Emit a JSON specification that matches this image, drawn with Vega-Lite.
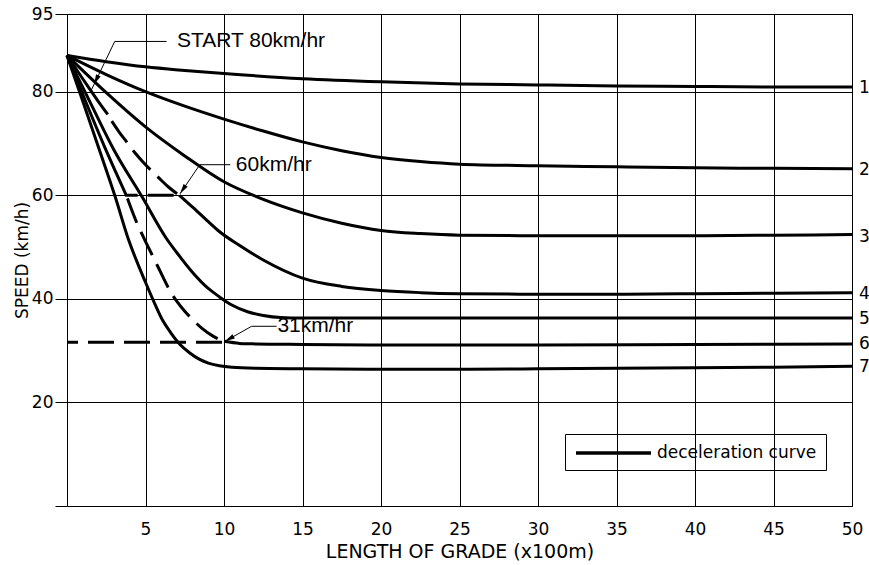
{
  "$schema": "https://vega.github.io/schema/vega-lite/v6.json",
  "width": 785,
  "height": 492,
  "autosize": {"type": "none"},
  "padding": {"left": 67, "top": 14, "right": 17, "bottom": 59},
  "background": "white",
  "config": {
    "view": {"stroke": "black", "strokeWidth": 1},
    "font": "DejaVu Sans",
    "axis": {
      "gridColor": "black", "gridOpacity": 1, "gridWidth": 1, "domain": false,
      "labelColor": "black", "titleColor": "black",
      "labelFont": "DejaVu Sans", "titleFont": "DejaVu Sans",
      "labelFontWeight": "normal", "titleFontWeight": "normal", "labelFlush": false
    }
  },
  "datasets": {
    "solid": [
      {"seg": "1", "x": 0, "y": 87}, {"seg": "1", "x": 2.5, "y": 85.8}, {"seg": "1", "x": 5, "y": 84.8}, {"seg": "1", "x": 7.5, "y": 84.1}, {"seg": "1", "x": 10, "y": 83.5}, {"seg": "1", "x": 15, "y": 82.5}, {"seg": "1", "x": 20, "y": 81.9}, {"seg": "1", "x": 25, "y": 81.5}, {"seg": "1", "x": 30, "y": 81.3}, {"seg": "1", "x": 35, "y": 81.1}, {"seg": "1", "x": 40, "y": 81.0}, {"seg": "1", "x": 45, "y": 80.9}, {"seg": "1", "x": 50, "y": 80.9},
      {"seg": "2", "x": 0, "y": 87}, {"seg": "2", "x": 2.5, "y": 83.3}, {"seg": "2", "x": 5, "y": 80}, {"seg": "2", "x": 7.5, "y": 77.2}, {"seg": "2", "x": 10, "y": 74.7}, {"seg": "2", "x": 12.5, "y": 72.4}, {"seg": "2", "x": 15, "y": 70.3}, {"seg": "2", "x": 17.5, "y": 68.6}, {"seg": "2", "x": 20, "y": 67.3}, {"seg": "2", "x": 22.5, "y": 66.5}, {"seg": "2", "x": 25, "y": 66.0}, {"seg": "2", "x": 30, "y": 65.7}, {"seg": "2", "x": 35, "y": 65.5}, {"seg": "2", "x": 40, "y": 65.3}, {"seg": "2", "x": 45, "y": 65.2}, {"seg": "2", "x": 50, "y": 65.1},
      {"seg": "3", "x": 0, "y": 87}, {"seg": "3", "x": 2.5, "y": 79.8}, {"seg": "3", "x": 5, "y": 73.2}, {"seg": "3", "x": 7.5, "y": 67.6}, {"seg": "3", "x": 10, "y": 62.6}, {"seg": "3", "x": 12.5, "y": 59.2}, {"seg": "3", "x": 15, "y": 56.6}, {"seg": "3", "x": 17.5, "y": 54.6}, {"seg": "3", "x": 20, "y": 53.2}, {"seg": "3", "x": 22.5, "y": 52.6}, {"seg": "3", "x": 25, "y": 52.3}, {"seg": "3", "x": 30, "y": 52.2}, {"seg": "3", "x": 35, "y": 52.2}, {"seg": "3", "x": 40, "y": 52.2}, {"seg": "3", "x": 45, "y": 52.3}, {"seg": "3", "x": 50, "y": 52.4},
      {"seg": "4s", "x": 0, "y": 87}, {"seg": "4s", "x": 1, "y": 82.5}, {"seg": "4s", "x": 2, "y": 78.1}, {"seg": "4s", "x": 2.6, "y": 75.6},
      {"seg": "4", "x": 7.15, "y": 60}, {"seg": "4", "x": 8, "y": 57.7}, {"seg": "4", "x": 9, "y": 54.9}, {"seg": "4", "x": 9.7, "y": 53}, {"seg": "4", "x": 11, "y": 50.3}, {"seg": "4", "x": 12.5, "y": 47.5}, {"seg": "4", "x": 15, "y": 44}, {"seg": "4", "x": 17.5, "y": 42.4}, {"seg": "4", "x": 20, "y": 41.6}, {"seg": "4", "x": 22.5, "y": 41.2}, {"seg": "4", "x": 25, "y": 41}, {"seg": "4", "x": 30, "y": 40.9}, {"seg": "4", "x": 35, "y": 40.9}, {"seg": "4", "x": 40, "y": 41}, {"seg": "4", "x": 45, "y": 41.1}, {"seg": "4", "x": 50, "y": 41.2},
      {"seg": "5", "x": 0, "y": 87}, {"seg": "5", "x": 1.5, "y": 77.8}, {"seg": "5", "x": 3, "y": 68.7}, {"seg": "5", "x": 4.8, "y": 59.6}, {"seg": "5", "x": 6.3, "y": 51.8}, {"seg": "5", "x": 7, "y": 48.9}, {"seg": "5", "x": 8, "y": 45.1}, {"seg": "5", "x": 9, "y": 42}, {"seg": "5", "x": 9.7, "y": 40.4}, {"seg": "5", "x": 10.5, "y": 38.8}, {"seg": "5", "x": 11.5, "y": 37.5}, {"seg": "5", "x": 12.5, "y": 36.8}, {"seg": "5", "x": 13.6, "y": 36.4}, {"seg": "5", "x": 15, "y": 36.3}, {"seg": "5", "x": 20, "y": 36.3}, {"seg": "5", "x": 30, "y": 36.3}, {"seg": "5", "x": 40, "y": 36.3}, {"seg": "5", "x": 50, "y": 36.3},
      {"seg": "6a", "x": 0, "y": 87}, {"seg": "6a", "x": 1.2, "y": 78}, {"seg": "6a", "x": 2.4, "y": 69.3}, {"seg": "6a", "x": 3.1, "y": 64.5}, {"seg": "6a", "x": 3.8, "y": 59.8},
      {"seg": "6c", "x": 10, "y": 31.8}, {"seg": "6c", "x": 11, "y": 31.4}, {"seg": "6c", "x": 12, "y": 31.3}, {"seg": "6c", "x": 15, "y": 31.2}, {"seg": "6c", "x": 20, "y": 31.1}, {"seg": "6c", "x": 30, "y": 31.1}, {"seg": "6c", "x": 40, "y": 31.2}, {"seg": "6c", "x": 50, "y": 31.3},
      {"seg": "7", "x": 0, "y": 87}, {"seg": "7", "x": 1, "y": 78.2}, {"seg": "7", "x": 2.07, "y": 68.7}, {"seg": "7", "x": 3.04, "y": 60}, {"seg": "7", "x": 3.9, "y": 51.6}, {"seg": "7", "x": 5, "y": 43.2}, {"seg": "7", "x": 5.6, "y": 39}, {"seg": "7", "x": 6.1, "y": 35.8}, {"seg": "7", "x": 6.6, "y": 33.5}, {"seg": "7", "x": 7.2, "y": 31.2}, {"seg": "7", "x": 7.8, "y": 29.6}, {"seg": "7", "x": 8.45, "y": 28.3}, {"seg": "7", "x": 9, "y": 27.6}, {"seg": "7", "x": 9.7, "y": 27.1}, {"seg": "7", "x": 10.5, "y": 26.8}, {"seg": "7", "x": 12, "y": 26.6}, {"seg": "7", "x": 15, "y": 26.5}, {"seg": "7", "x": 20, "y": 26.4}, {"seg": "7", "x": 25, "y": 26.4}, {"seg": "7", "x": 30, "y": 26.5}, {"seg": "7", "x": 35, "y": 26.6}, {"seg": "7", "x": 40, "y": 26.7}, {"seg": "7", "x": 45, "y": 26.8}, {"seg": "7", "x": 50, "y": 27}
    ],
    "dashed": [
      {"seg": "A", "x": 2.85, "y": 74.3}, {"seg": "A", "x": 3.3, "y": 72.3}, {"seg": "A", "x": 3.85, "y": 70.1}, {"seg": "A", "x": 4.3, "y": 68.3}, {"seg": "A", "x": 5, "y": 65.9}, {"seg": "A", "x": 5.5, "y": 64.4}, {"seg": "A", "x": 5.9, "y": 63.2}, {"seg": "A", "x": 6.5, "y": 61.5}, {"seg": "A", "x": 7.15, "y": 60},
      {"seg": "B", "x": 3.85, "y": 59.4}, {"seg": "B", "x": 4.5, "y": 54.3}, {"seg": "B", "x": 4.95, "y": 51.4}, {"seg": "B", "x": 5.6, "y": 47.4}, {"seg": "B", "x": 6.1, "y": 44.3}, {"seg": "B", "x": 6.55, "y": 41.6}, {"seg": "B", "x": 7, "y": 39.5}, {"seg": "B", "x": 7.5, "y": 37.6}, {"seg": "B", "x": 8, "y": 36}, {"seg": "B", "x": 8.6, "y": 34.3}, {"seg": "B", "x": 9.3, "y": 32.8}, {"seg": "B", "x": 10, "y": 31.8}
    ],
    "levels": [
      {"seg": "h60", "x": 3.8, "y": 60}, {"seg": "h60", "x": 7.15, "y": 60},
      {"seg": "h31", "x": 0, "y": 31.6}, {"seg": "h31", "x": 10, "y": 31.6}
    ],
    "leaders": [
      {"note": "start", "x": 6.34, "y": 89.7}, {"note": "start", "x": 3.04, "y": 89.7}, {"note": "start", "x": 1.5, "y": 80},
      {"note": "n60", "x": 10.4, "y": 65.9}, {"note": "n60", "x": 8.46, "y": 65.9}, {"note": "n60", "x": 7.2, "y": 60.3},
      {"note": "n31", "x": 13.35, "y": 34.7}, {"note": "n31", "x": 11.76, "y": 34.7}, {"note": "n31", "x": 10.06, "y": 31.8}
    ],
    "tips": [
      {"note": "start", "x": 1.72, "y": 81.4},
      {"note": "n60", "x": 7.2, "y": 60.3},
      {"note": "n31", "x": 10.06, "y": 31.8}
    ],
    "notes": [
      {"text": "START 80km/hr", "x": 7.0, "y": 89.8},
      {"text": "60km/hr", "x": 10.75, "y": 65.9},
      {"text": "31km/hr", "x": 13.4, "y": 34.7}
    ],
    "ends": [
      {"label": "1", "y": 80.8}, {"label": "2", "y": 64.8}, {"label": "3", "y": 51.9}, {"label": "4", "y": 41.0}, {"label": "5", "y": 36.2}, {"label": "6", "y": 31.3}, {"label": "7", "y": 26.9}
    ]
  },
  "layer": [
    {
      "data": {"name": "solid"},
      "mark": {"type": "line", "interpolate": "monotone", "strokeWidth": 3},
      "encoding": {
        "x": {
          "field": "x", "type": "quantitative",
          "scale": {"domain": [0, 50], "nice": false, "zero": false},
          "axis": {
            "values": [5, 10, 15, 20, 25, 30, 35, 40, 45, 50],
            "ticks": false, "tickSize": 0, "labelFontSize": 17, "labelPadding": 15,
            "title": "LENGTH OF GRADE (x100m)", "titleFontSize": 19, "titlePadding": 5, "grid": true
          }
        },
        "y": {
          "field": "y", "type": "quantitative",
          "scale": {"domain": [0, 95], "nice": false, "zero": false},
          "axis": {
            "values": [0, 20, 40, 60, 80, 95],
            "labelExpr": "datum.value == 0 ? '' : datum.label",
            "ticks": true, "tickSize": 12, "tickColor": "black", "tickWidth": 1,
            "labelPadding": 2, "labelFontSize": 17,
            "title": "SPEED (km/h)", "titleFontSize": 17, "titlePadding": 0, "grid": true
          }
        },
        "detail": {"field": "seg"},
        "color": {
          "datum": "deceleration curve", "type": "nominal",
          "scale": {"range": ["black"]},
          "legend": {
            "orient": "none", "legendX": 498, "legendY": 420, "title": null,
            "strokeColor": "black", "padding": 9, "cornerRadius": 0,
            "symbolType": "M-1,0L8.375,0", "symbolSize": 256, "symbolStrokeWidth": 3.5,
            "labelFontSize": 17, "labelOffset": 63, "labelFont": "DejaVu Sans",
            "labelFontWeight": "normal", "labelColor": "black"
          }
        }
      }
    },
    {
      "data": {"name": "dashed"},
      "mark": {"type": "line", "interpolate": "monotone", "strokeWidth": 3, "strokeDash": [26, 10], "color": "black"},
      "encoding": {
        "x": {"field": "x", "type": "quantitative"},
        "y": {"field": "y", "type": "quantitative"},
        "detail": {"field": "seg"}
      }
    },
    {
      "data": {"name": "levels"},
      "mark": {"type": "line", "strokeWidth": 3, "strokeDash": [26, 10], "strokeDashOffset": 15, "color": "black"},
      "encoding": {
        "x": {"field": "x", "type": "quantitative"},
        "y": {"field": "y", "type": "quantitative"},
        "detail": {"field": "seg"}
      }
    },
    {
      "data": {"name": "leaders"},
      "mark": {"type": "line", "strokeWidth": 1, "color": "black"},
      "encoding": {
        "x": {"field": "x", "type": "quantitative"},
        "y": {"field": "y", "type": "quantitative"},
        "detail": {"field": "note"}
      }
    },
    {
      "data": {"name": "tips"},
      "transform": [{"filter": "datum.note == 'start'"}],
      "mark": {"type": "point", "shape": "M0,0L-0.25,1L0.25,1Z", "filled": true, "color": "black", "opacity": 1, "size": 400, "angle": 205.8},
      "encoding": {
        "x": {"field": "x", "type": "quantitative"},
        "y": {"field": "y", "type": "quantitative"}
      }
    },
    {
      "data": {"name": "tips"},
      "transform": [{"filter": "datum.note == 'n60'"}],
      "mark": {"type": "point", "shape": "M0,0L-0.25,1L0.25,1Z", "filled": true, "color": "black", "opacity": 1, "size": 400, "angle": 214.1},
      "encoding": {
        "x": {"field": "x", "type": "quantitative"},
        "y": {"field": "y", "type": "quantitative"}
      }
    },
    {
      "data": {"name": "tips"},
      "transform": [{"filter": "datum.note == 'n31'"}],
      "mark": {"type": "point", "shape": "M0,0L-0.25,1L0.25,1Z", "filled": true, "color": "black", "opacity": 1, "size": 400, "angle": 240.7},
      "encoding": {
        "x": {"field": "x", "type": "quantitative"},
        "y": {"field": "y", "type": "quantitative"}
      }
    },
    {
      "data": {"name": "notes"},
      "mark": {"type": "text", "align": "left", "baseline": "middle", "font": "Liberation Sans", "fontSize": 21, "color": "black"},
      "encoding": {
        "x": {"field": "x", "type": "quantitative"},
        "y": {"field": "y", "type": "quantitative"},
        "text": {"field": "text"}
      }
    },
    {
      "data": {"name": "ends"},
      "mark": {"type": "text", "align": "left", "baseline": "middle", "font": "DejaVu Sans", "fontSize": 17, "color": "black", "dx": 7},
      "encoding": {
        "x": {"datum": 50, "type": "quantitative"},
        "y": {"field": "y", "type": "quantitative"},
        "text": {"field": "label"}
      }
    }
  ]
}
